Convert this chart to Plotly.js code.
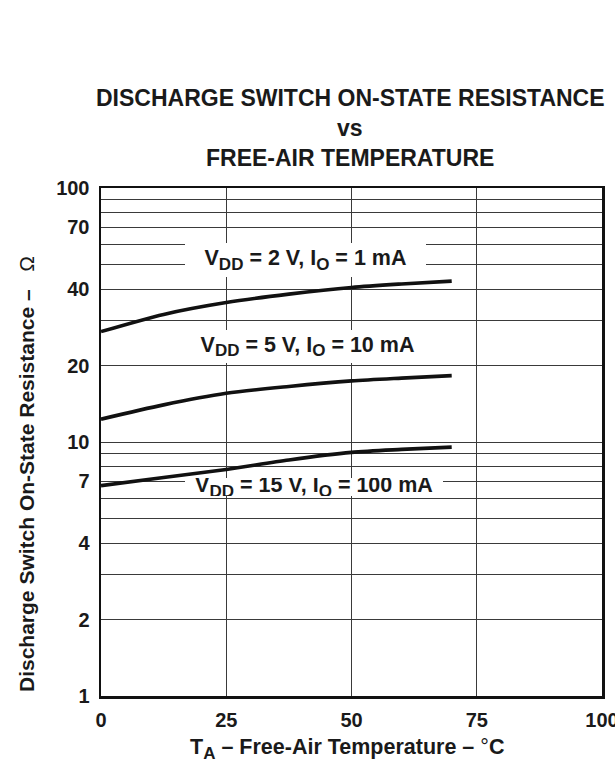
<!DOCTYPE html>
<html>
<head>
<meta charset="utf-8">
<script src="https://cdn.plot.ly/plotly-3.0.1.min.js"></script>
<style>html,body{margin:0;padding:0;background:#fff;}#chart{width:615px;height:759px;}</style>
</head>
<body>
<div id="chart"></div>
<script>
// Data
const temperature = [0, 12.5, 25, 37.5, 50, 60, 70];
const res_2V_1mA = [27.2, 31.8, 35.4, 38.2, 40.6, 41.9, 43.0];
const res_5V_10mA = [12.3, 14.0, 15.55, 16.55, 17.4, 17.85, 18.25];
const res_15V_100mA = [6.73, 7.25, 7.8, 8.5, 9.1, 9.35, 9.55];

const xTicks = [0, 25, 50, 75, 100];
const yTicks = [1, 2, 4, 7, 10, 20, 40, 70, 100];
const yTickText = ['1', '2', '4', '7', '10', '20', '40', '70', '100'];
const yMinorGrid = [3, 5, 6, 8, 9, 30, 50, 60, 80, 90];

const sub = s => '<sub><span style="font-size:17px">' + s + '</span></sub>';
const seriesLabels = [
  'V' + sub('DD') + ' = 2 V, I' + sub('O') + ' = 1 mA',
  'V' + sub('DD') + ' = 5 V, I' + sub('O') + ' = 10 mA',
  'V' + sub('DD') + ' = 15 V, I' + sub('O') + ' = 100 mA'
];
const titleLines = ['DISCHARGE SWITCH ON-STATE RESISTANCE', 'vs', 'FREE-AIR TEMPERATURE'];

const FONT = 'Liberation Sans, Arial, Helvetica, sans-serif';
const INK = '#1a1a1a';
const W = 615, H = 759;
const L = 101, R = 602, T = 188, B = 696;
const px = v => (v - L) / (R - L);
const py = v => (B - v) / (B - T);

const lineStyle = {color: '#111', width: 3.6, shape: 'spline', smoothing: 0.8};
const traces = [res_2V_1mA, res_5V_10mA, res_15V_100mA].map((ys, i) => ({
  x: temperature, y: ys, type: 'scatter', mode: 'lines',
  line: lineStyle, name: seriesLabels[i], hoverinfo: 'skip'
}));

// label boxes: [centerX, centerY, width, height] in pixels
const labelBoxes = [[305, 259.5, 241, 34], [307, 346, 235, 33], [314, 487, 258, 18]];
const labelAnns = seriesLabels.map((t, i) => ({
  text: '<b>' + t + '</b>', xref: 'paper', yref: 'paper',
  x: px(labelBoxes[i][0]), y: py(labelBoxes[i][1]),
  width: labelBoxes[i][2], height: labelBoxes[i][3],
  xanchor: 'center', yanchor: 'middle', valign: 'middle', align: 'center',
  showarrow: false, bgcolor: '#ffffff', borderpad: 0, borderwidth: 0,
  font: {family: FONT, size: 21.5, color: INK}
}));

const titleY = [98, 127.5, 157.5];
const titleAnns = titleLines.map((t, i) => ({
  text: '<b>' + t + '</b>', xref: 'paper', yref: 'paper',
  x: px(350), y: py(titleY[i]), xanchor: 'center', yanchor: 'middle',
  showarrow: false, font: {family: FONT, size: 23, color: INK}
}));

const layout = {
  width: W, height: H,
  margin: {l: L, r: W - R, t: T, b: H - B, pad: 0},
  paper_bgcolor: '#ffffff', plot_bgcolor: '#ffffff',
  showlegend: false,
  xaxis: {
    range: [0, 100], tickvals: xTicks, ticktext: xTicks.map(String),
    showgrid: true, gridcolor: '#3a3a3a', gridwidth: 1,
    zeroline: false, showline: true, linecolor: '#111', linewidth: 2.5, mirror: true,
    ticks: '', ticklabelstandoff: 4, ticklabeloverflow: 'allow',
    tickfont: {family: FONT, size: 20, color: INK, weight: 'bold'},
    fixedrange: true
  },
  yaxis: {
    type: 'log', range: [0, 2], tickvals: yTicks, ticktext: yTickText,
    showgrid: true, gridcolor: '#3a3a3a', gridwidth: 1,
    minor: {tickvals: yMinorGrid, showgrid: true, gridcolor: '#3a3a3a', gridwidth: 1, ticks: ''},
    zeroline: false, showline: true, linecolor: '#111', linewidth: 2.5, mirror: true,
    ticks: '', ticklabelstandoff: 5, ticklabeloverflow: 'allow',
    tickfont: {family: FONT, size: 20, color: INK, weight: 'bold'},
    fixedrange: true
  },
  annotations: labelAnns.concat(titleAnns, [
    {
      text: '<b>T' + sub('A') + ' – Free-Air Temperature –</b> °<b>C</b>',
      xref: 'paper', yref: 'paper', x: px(347), y: py(749),
      xanchor: 'center', yanchor: 'middle', showarrow: false,
      font: {family: FONT, size: 21.5, color: INK}
    },
    {
      text: '<b>Discharge Switch On-State Resistance –</b>   Ω',
      xref: 'paper', yref: 'paper', x: px(26), y: py(474),
      xanchor: 'center', yanchor: 'middle', showarrow: false, textangle: -90,
      font: {family: FONT, size: 21, color: INK}
    }
  ])
};

Plotly.newPlot('chart', traces, layout, {displayModeBar: false, staticPlot: true});
</script>
</body>
</html>
